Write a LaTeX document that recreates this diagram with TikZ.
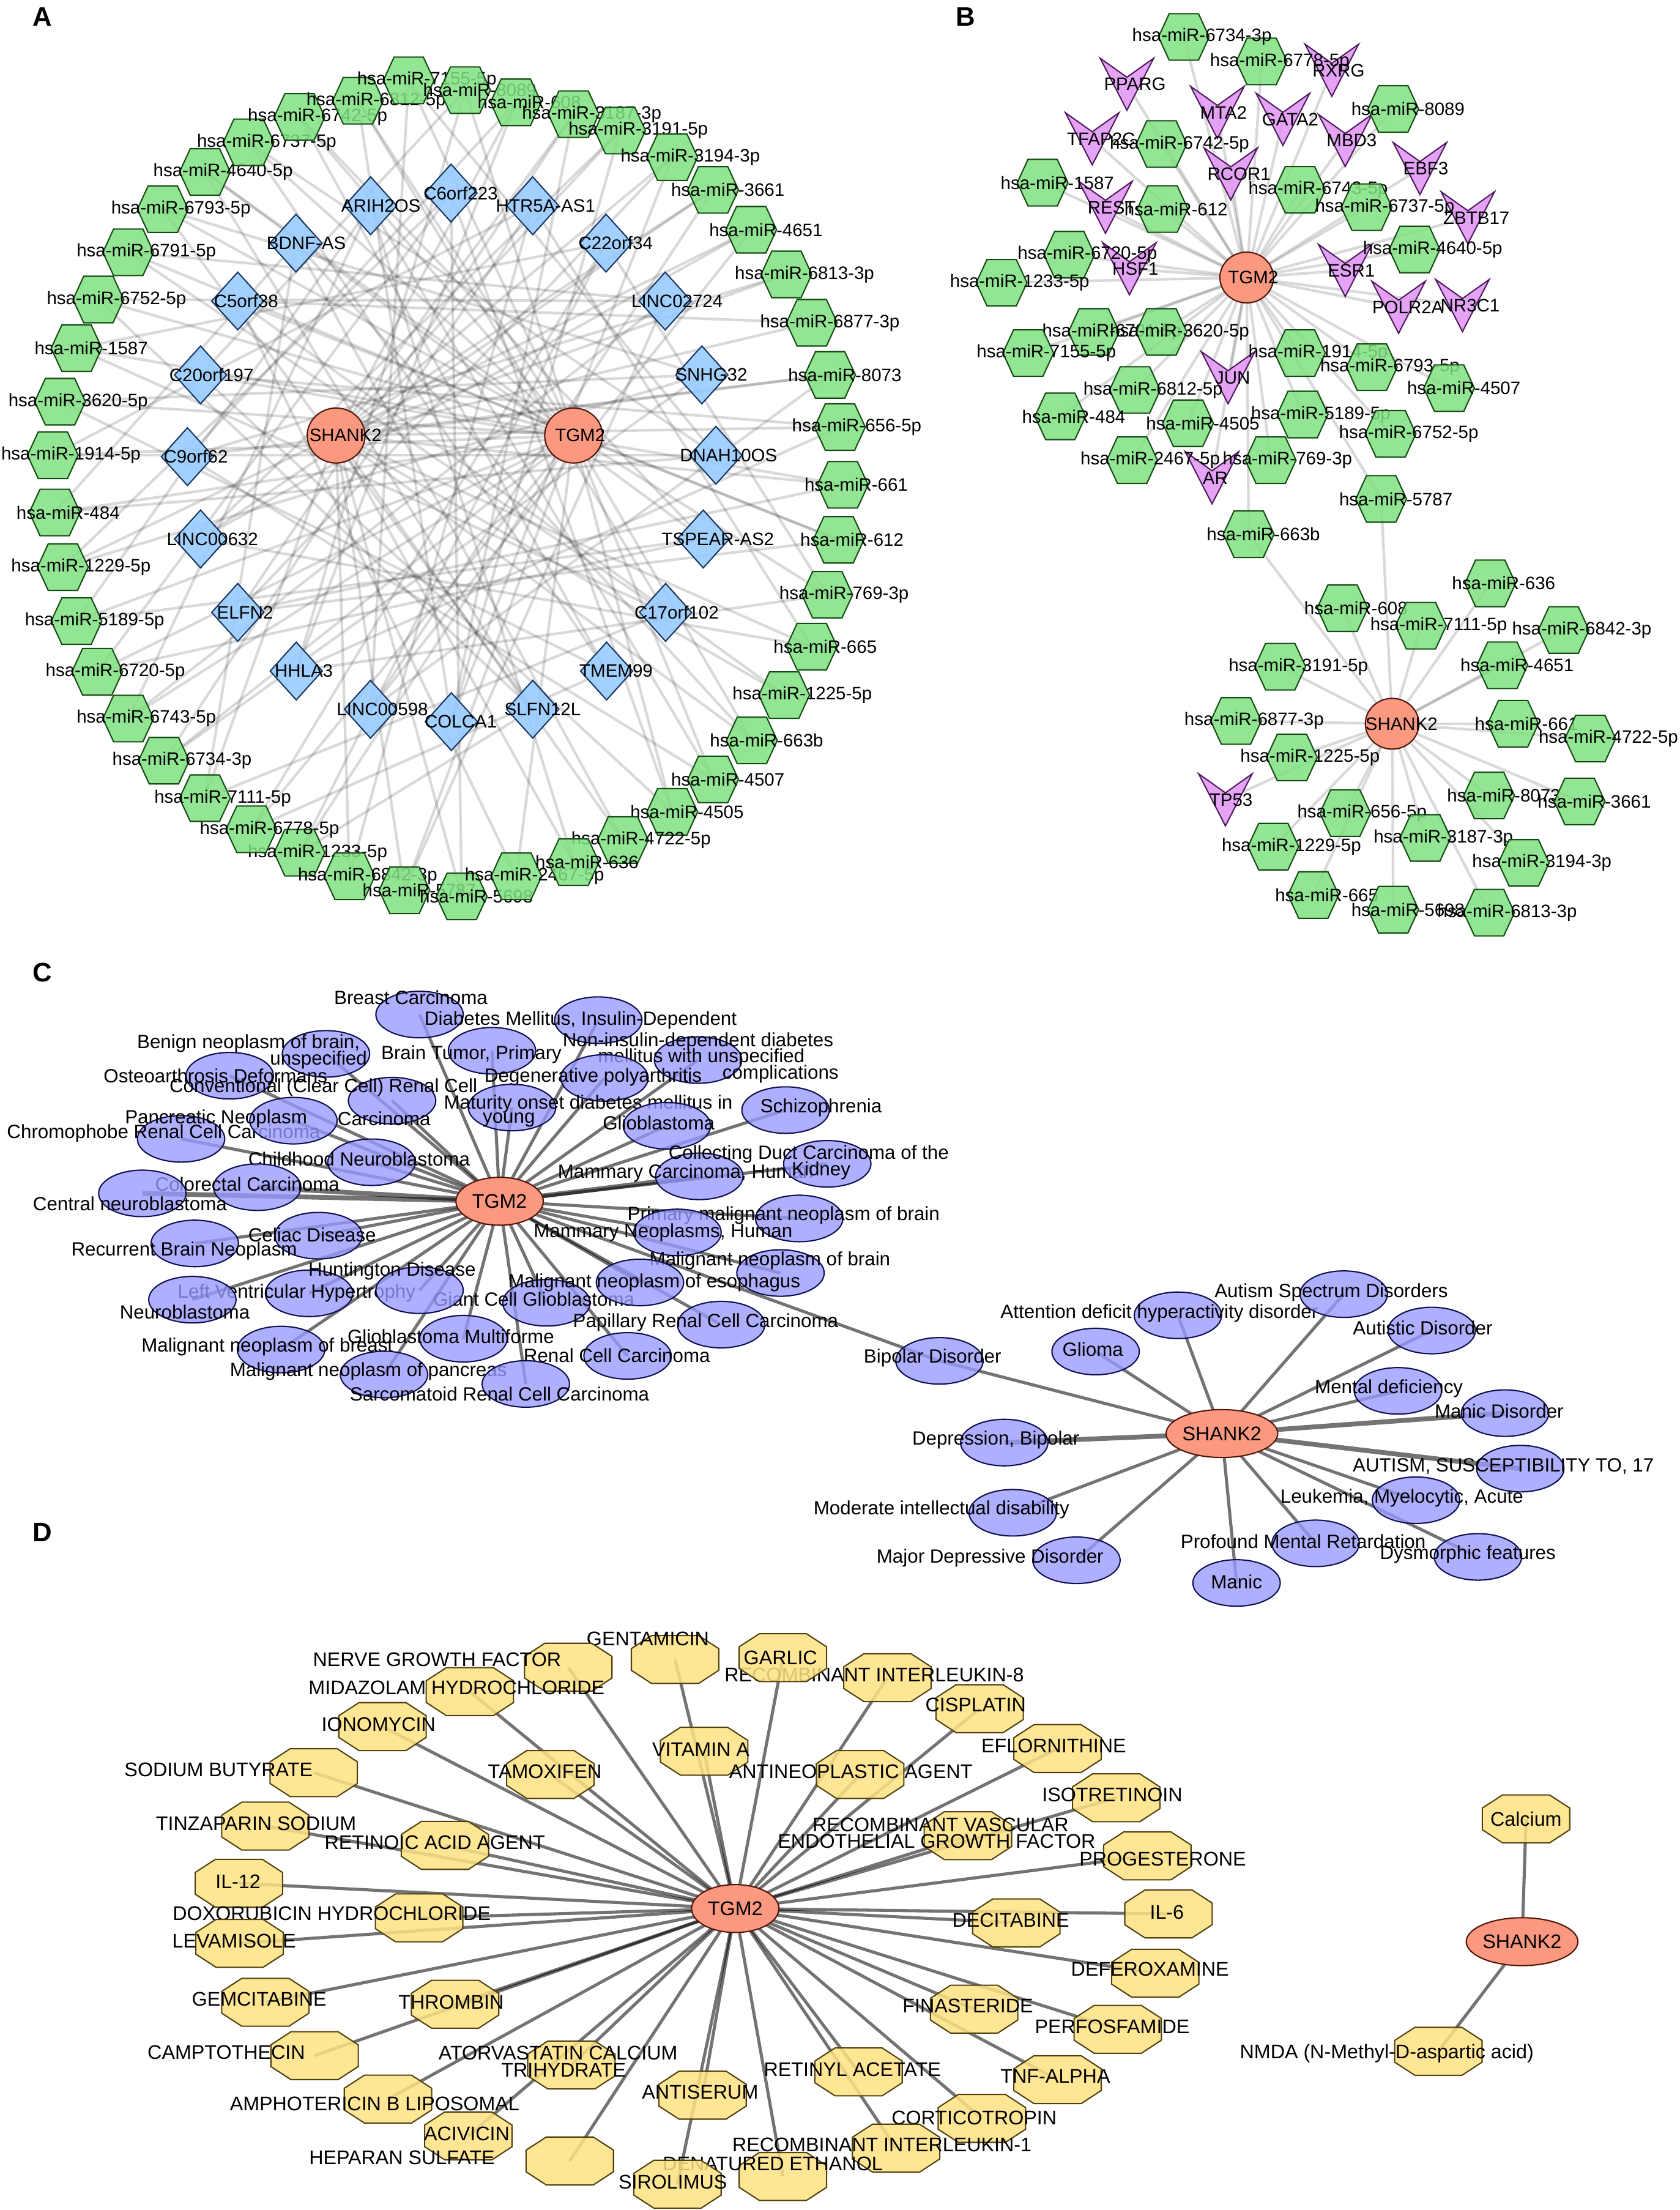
\documentclass[tikz,border=0pt]{standalone}
\usepackage{fontspec}
\setmainfont{Liberation Sans}
\usetikzlibrary{shapes.geometric}
\pgfdeclarelayer{bg}
\pgfsetlayers{bg,main}
\definecolor{hexfill}{RGB}{128,225,128}
\definecolor{hexdraw}{RGB}{20,75,20}
\definecolor{dmfill}{RGB}{153,204,255}
\definecolor{dmdraw}{RGB}{25,55,100}
\definecolor{vfill}{RGB}{226,153,245}
\definecolor{vdraw}{RGB}{80,25,95}
\definecolor{hubfill}{RGB}{250,152,128}
\definecolor{hubdraw}{RGB}{80,20,10}
\definecolor{disfill}{RGB}{153,153,255}
\definecolor{disdraw}{RGB}{15,15,80}
\definecolor{octfill}{RGB}{255,226,130}
\definecolor{octdraw}{RGB}{80,65,15}
\newdimen\lblw
\newcommand\olbl[3]{\pgfinterruptpicture\global\setbox1=\hbox{\fontsize{12.8}{14}\selectfont #3}\endpgfinterruptpicture\lblw=0.13\wd1\relax\node[lblA] (#2) at ([xshift=\the\lblw]#1) {#3};}
\newcommand\cdis[4]{\node[disc] (#1) at (#2) {};\node[lblC] (#1l) at (#3) {#4};}
\newcommand\cxl[3]{\node[lblC] (#1) at (#2) {#3};}
\newcommand\ddrug[4]{\coordinate (#1) at (#2);\pic at (#1) {octpic};\node[lblD] (#1l) at (#3) {#4};}
\newcommand\dxl[3]{\node[lblD] (#1) at (#2) {#3};}
\tikzset{
  hexs/.style={fill=hexfill,fill opacity=0.85,draw=hexdraw,line width=0.9pt},
  dms/.style={fill=dmfill,fill opacity=0.9,draw=dmdraw,line width=0.9pt},
  vs/.style={fill=vfill,fill opacity=0.9,draw=vdraw,line width=0.9pt},
  octs/.style={fill=octfill,fill opacity=0.85,draw=octdraw,line width=0.9pt},
  hexpic/.pic={\path[hexs] (-18,0)--(-10.4,-16.5)--(10.4,-16.5)--(18,0)--(10.4,16.5)--(-10.4,16.5)--cycle;},
  dmpic/.pic={\path[dms] (0,-20.5)--(18.5,0)--(0,20.5)--(-18.5,0)--cycle;},
  vpic/.pic={\path[vs] (-19,-18.5)--(0,-5)--(19,-18.5)--(0,18.5)--cycle;},
  octpic/.pic={\path[octs] (-16.7,-17)--(16.7,-17)--(31,-7.7)--(31,7.7)--(16.7,17)--(-16.7,17)--(-31,7.7)--(-31,-7.7)--cycle;},
  hubA/.style={ellipse,fill=hubfill,draw=hubdraw,line width=0.9pt,minimum width=41,minimum height=39,inner sep=0pt},
  hubB/.style={hubA,minimum width=38,minimum height=36},
  hubC/.style={hubA,minimum width=62,minimum height=34,font=\fontsize{14}{16}\selectfont},
  disc/.style={ellipse,fill=disfill,fill opacity=0.78,draw=disdraw,line width=0.9pt,minimum width=62,minimum height=33,inner sep=0pt},
  lblA/.style={font=\fontsize{12.8}{14}\selectfont,inner sep=0pt},
  lblC/.style={font=\fontsize{13.6}{15}\selectfont,inner sep=0pt},
  lblD/.style={font=\fontsize{14}{16}\selectfont,inner sep=0pt},
  plabel/.style={font=\fontsize{19}{22}\selectfont\bfseries,inner sep=0pt},
  edgeA/.style={draw=black,draw opacity=0.15,line width=1.9pt},
  edgeC/.style={draw=black,draw opacity=0.55,line width=2.2pt},
  edgeCt/.style={edgeC,line width=3.4pt}
}
\begin{document}
\begin{tikzpicture}[x=1pt,y=-1pt]
\begin{pgfonlayer}{bg}
\fill[white] (0,0) rectangle (1192,1568);
\end{pgfonlayer}
\useasboundingbox (0,0) rectangle (1192,1568);

% ---------------- Panel labels
\node[plabel] (pA) at (30,12) {A};
\node[plabel] (pB) at (685,12) {B};
\node[plabel] (pC) at (30,690) {C};
\node[plabel] (pD) at (30,1087) {D};

% ---------------- Panel A
\foreach \n/\x/\y in {a7155/290/57, a8089/330/64, a6812/254/71.5, a608/366/72.6, a6742/212.5/83, a3187/407/81, a3191/440/92.6, a6737/176.4/101, a3194/477/111.5, a4640/145.4/122, a3661/506/134.7, a6793/115.5/148.4, a4651/533/163, a6791/91/179, a6813/558/194.7, a6752/69.8/212.5, a6877/576/229, a1587/54.3/247, a8073/589/266, a3620/42.6/285, a656/596/303, a1914/37.5/323, a484/38.8/363.6, a1229/44.6/402.4, a5189/54.3/440.7, a6720/69/476.6, a6743/91/509.8, a6734/116.3/539.7, a7111/145.4/566.3, a6778/178.4/588.4, a1233/212.5/605, a6842/248/621.7, a5787/287/631.7, a5698/327.6/636, a2467/366.4/621.7, a636/407/611.7, a4722/442/596, a4505/477/576, a4507/506/553, a663b/533.5/525.3, a1225/556.4/493.2, a665/576/458.8, a769/587/422, a612/595/383, a661/598/344}
  \coordinate (\n) at (\x,\y);
\foreach \n/\x/\y in {dC6/320/137, dARIH/263/146, dHTR/378/146, dBDNF/210/172.5, dC22/430/172.5, dC5/168.7/213.6, dL2724/472/213.6, dC20/142.3/266, dSNHG/498/266, dC9/133/324, dDNAH/508/323, dL632/142.3/382.4, dTSP/499/382.4, dELFN/168.7/434.5, dC17/472.3/434.5, dHHLA/210.2/476.1, dTMEM/430.4/476.1, dL598/262.9/503.2, dSLFN/378/503.2, dCOLCA/320.3/512}
  \coordinate (\n) at (\x,\y);
\node[hubA] (aSHANK2) at (238.5,309) {};
\olbl{aSHANK2}{LaSHANK2}{SHANK2}
\node[hubA] (aTGM2) at (407,309) {};
\olbl{aTGM2}{LaTGM2}{TGM2}
\foreach \n/\t in {dC6/C6orf223, dARIH/ARIH2OS, dHTR/HTR5A-AS1, dBDNF/BDNF-AS, dC22/C22orf34, dC5/C5orf38, dL2724/LINC02724, dC20/C20orf197, dSNHG/SNHG32, dC9/C9orf62, dDNAH/DNAH10OS, dL632/LINC00632, dTSP/TSPEAR-AS2, dELFN/ELFN2, dC17/C17orf102, dHHLA/HHLA3, dTMEM/TMEM99, dL598/LINC00598, dSLFN/SLFN12L, dCOLCA/COLCA1}
  {\pic at (\n) {dmpic}; \olbl{\n}{L\n}{\t}}
\foreach \n/\t in {a1233/hsa-miR-1233-5p, a6842/hsa-miR-6842-3p, a5787/hsa-miR-5787, a5698/hsa-miR-5698, a2467/hsa-miR-2467-5p, a6778/hsa-miR-6778-5p, a7111/hsa-miR-7111-5p, a6734/hsa-miR-6734-3p, a6743/hsa-miR-6743-5p, a6720/hsa-miR-6720-5p, a5189/hsa-miR-5189-5p, a1229/hsa-miR-1229-5p, a484/hsa-miR-484, a1914/hsa-miR-1914-5p, a3620/hsa-miR-3620-5p, a1587/hsa-miR-1587, a6752/hsa-miR-6752-5p, a6791/hsa-miR-6791-5p, a6793/hsa-miR-6793-5p, a4640/hsa-miR-4640-5p, a6737/hsa-miR-6737-5p, a6742/hsa-miR-6742-5p, a6812/hsa-miR-6812-5p, a7155/hsa-miR-7155-5p, a8089/hsa-miR-8089, a608/hsa-miR-608, a3187/hsa-miR-3187-3p, a3191/hsa-miR-3191-5p, a3194/hsa-miR-3194-3p, a3661/hsa-miR-3661, a4651/hsa-miR-4651, a6813/hsa-miR-6813-3p, a6877/hsa-miR-6877-3p, a8073/hsa-miR-8073, a656/hsa-miR-656-5p, a661/hsa-miR-661, a612/hsa-miR-612, a769/hsa-miR-769-3p, a665/hsa-miR-665, a1225/hsa-miR-1225-5p, a663b/hsa-miR-663b, a4507/hsa-miR-4507, a4505/hsa-miR-4505, a4722/hsa-miR-4722-5p, a636/hsa-miR-636}
  {\pic at (\n) {hexpic}; \olbl{\n}{L\n}{\t}}
\begin{pgfonlayer}{bg}
\foreach \mm in {a608,a3187,a3191,a3194,a3661,a4651,a6813,a6877,a8073,a656,a1229,a7111,a6842,a5698,a636,a4722,a1225,a665,a661,a5787,a663b}
  \draw[edgeA] (aSHANK2.center) -- (\mm.center);
\foreach \mm in {a7155,a8089,a6812,a6742,a6737,a4640,a6793,a6791,a6752,a1587,a3620,a1914,a484,a5189,a6720,a6743,a6734,a6778,a1233,a5787,a2467,a4505,a4507,a663b,a769,a612}
  \draw[edgeA] (aTGM2.center) -- (\mm.center);
\foreach \dd/\ms in {dC6/{a5698,a4505,a6720,a1229}, dARIH/{a636,a4507,a6743,a5189}, dHTR/{a6842,a6734,a665,a1914}, dBDNF/{a4722,a663b,a7111,a484}, dC22/{a6778,a1233,a769,a1587}, dC5/{a1225,a612,a2467,a6877}, dL2724/{a6791,a6752,a5787,a6743}, dC20/{a661,a656,a4505,a8089}, dSNHG/{a3620,a6793,a1229,a6734}, dC9/{a8073,a6813,a608,a4507}, dDNAH/{a1914,a484,a6737,a7155}, dL632/{a4651,a3661,a3191,a665}, dTSP/{a4640,a5189,a6742,a6720}, dELFN/{a3194,a3187,a661,a612}, dC17/{a6812,a1587,a6791,a7111}, dHHLA/{a608,a8089,a769,a656}, dTMEM/{a6742,a6737,a3620,a6778}, dL598/{a7155,a3661,a4651,a8073}, dSLFN/{a6793,a4640,a6752,a1233}, dCOLCA/{a3191,a3187,a6812,a3194}}
  {\foreach \mm in \ms {\draw[edgeA] (\dd.center) -- (\mm.center);}}
\end{pgfonlayer}

% ---------------- Panel B
\foreach \n/\x/\y in {bPPARG/799.6/59.8, bRXRG/945/49.9, bMTA2/863.8/79.8, bGATA2/910.3/84.7, bMBD3/954.5/99.7, bTFAP2C/775/98.5, bRCOR1/873.3/123.4, bEBF3/1007.5/119.6, bREST/784.4/147.1, bZBTB17/1041.5/154.5, bHSF1/801.4/190.7, bESR1/954.5/191.9, bPOLR2A/992.4/218, bNR3C1/1037.7/216.8, bJUN/871.4/268, bAR/860/339, bTP53/869.5/567.5, b6734/840/26.2, b6778/895.2/43.6, b8089/988.6/77.3, b6742/824.1/102.2, b1587/739.8/129.6, b612/824.9/148.3, b6743/922.4/134.6, b6737/969.7/147, b4640/1003.7/177, b6720/758.7/180.7, b1233/710.7/200.6, b6791/776.1/235.5, b3620/824.1/235.5, b7155/729.6/250.5, b1914/922.4/250.5, b6793/973.4/260.5, b4507/1028.2/275.4, b6812/805.3/276.7, b484/752.3/295.4, b4505/843/300.3, b5189/924.3/294.1, b6752/986.7/307.8, b2467/803.3/326.5, b769/901.6/326.5, b5787/980/354, b663b/886/379, b636/1057.4/413.9, b608/952.6/431.5, b7111/1008.2/443.9, b6842/1109.5/447, b3191/908.4/473, b4651/1066/472, b6877/877/511.5, b661/1073.6/513.5, b4722/1128.4/524, b1225/916.7/537.4, b8073/1056.6/564.4, b3661/1120.8/568.6, b656/954.5/576.9, b1229/903.5/600.7, b3187/1011.3/594.5, b3194/1081.2/612.2, b665/931.9/635, b5698/988.6/645.4, b6813/1056.6/647.5}
  \coordinate (\n) at (\x,\y);
\node[hubB] (bTGM2) at (884.6,196.9) {};
\olbl{bTGM2}{LbTGM2}{TGM2}
\node[hubB] (bSHANK2) at (987.8,513.5) {};
\olbl{bSHANK2}{LbSHANK2}{SHANK2}
\foreach \n/\t in {bRXRG/RXRG, bPPARG/PPARG, bMTA2/MTA2, bGATA2/GATA2, bMBD3/MBD3, bTFAP2C/TFAP2C, bRCOR1/RCOR1, bEBF3/EBF3, bREST/REST, bZBTB17/ZBTB17, bHSF1/HSF1, bESR1/ESR1, bPOLR2A/POLR2A, bNR3C1/NR3C1, bJUN/JUN, bAR/AR, bTP53/TP53}
  {\pic at (\n) {vpic}; \olbl{\n}{L\n}{\t}}
\foreach \n/\t in {b6778/hsa-miR-6778-5p, b6734/hsa-miR-6734-3p, b8089/hsa-miR-8089, b6742/hsa-miR-6742-5p, b1587/hsa-miR-1587, b612/hsa-miR-612, b6743/hsa-miR-6743-5p, b6737/hsa-miR-6737-5p, b4640/hsa-miR-4640-5p, b6720/hsa-miR-6720-5p, b1233/hsa-miR-1233-5p, b6791/hsa-miR-6791-5p, b3620/hsa-miR-3620-5p, b7155/hsa-miR-7155-5p, b1914/hsa-miR-1914-5p, b6793/hsa-miR-6793-5p, b4507/hsa-miR-4507, b6812/hsa-miR-6812-5p, b484/hsa-miR-484, b4505/hsa-miR-4505, b5189/hsa-miR-5189-5p, b6752/hsa-miR-6752-5p, b2467/hsa-miR-2467-5p, b769/hsa-miR-769-3p, b5787/hsa-miR-5787, b663b/hsa-miR-663b, b636/hsa-miR-636, b608/hsa-miR-608, b7111/hsa-miR-7111-5p, b6842/hsa-miR-6842-3p, b3191/hsa-miR-3191-5p, b4651/hsa-miR-4651, b6877/hsa-miR-6877-3p, b661/hsa-miR-661, b4722/hsa-miR-4722-5p, b1225/hsa-miR-1225-5p, b8073/hsa-miR-8073, b3661/hsa-miR-3661, b656/hsa-miR-656-5p, b1229/hsa-miR-1229-5p, b3187/hsa-miR-3187-3p, b3194/hsa-miR-3194-3p, b665/hsa-miR-665, b5698/hsa-miR-5698, b6813/hsa-miR-6813-3p}
  {\pic at (\n) {hexpic}; \olbl{\n}{L\n}{\t}}
\begin{pgfonlayer}{bg}
\foreach \mm in {b6734,b6778,b8089,b6742,b1587,b612,b6743,b6737,b4640,b6720,b1233,b6791,b3620,b7155,b1914,b6793,b4507,b6812,b484,b4505,b5189,b6752,b2467,b769,b5787,b663b,bPPARG,bRXRG,bMTA2,bGATA2,bMBD3,bTFAP2C,bRCOR1,bEBF3,bREST,bZBTB17,bHSF1,bESR1,bPOLR2A,bNR3C1,bJUN,bAR}
  \draw[edgeA] (bTGM2.center) -- (\mm.center);
\foreach \mm in {b636,b608,b7111,b6842,b3191,b4651,b6877,b661,b4722,b1225,b8073,b3661,b656,b1229,b3187,b3194,b665,b5698,b6813,bTP53,b5787,b663b}
  \draw[edgeA] (bSHANK2.center) -- (\mm.center);
\end{pgfonlayer}

% ---------------- Panel C
\cdis{c1}{297.7,719.8}{291.5,707.6}{Breast Carcinoma}
\cdis{c2}{424.5,723.8}{412,723.8}{Diabetes Mellitus, Insulin-Dependent}
\cdis{c3}{231.3,747.7}{176.3,740.4}{Benign neoplasm of brain,}
\cxl{c3m}{226,752.1}{unspecified}
\cdis{c4}{349.1,745.5}{334.5,748.2}{Brain Tumor, Primary}
\cdis{c5}{495.3,752.1}{495.3,738.9}{Non-insulin-dependent diabetes}
\cxl{c5m}{497.6,750.4}{mellitus with unspecified}
\cxl{c5n}{553.8,761.9}{complications}
\cdis{c6}{163,763.2}{152.9,763.2}{Osteoarthrosis Deformans}
\cdis{c7}{278.2,780.9}{229.5,771.4}{Conventional (Clear Cell) Renal Cell}
\cxl{c7m}{272.5,793.6}{Carcinoma}
\cdis{c8}{428.9,764.8}{420.9,764.1}{Degenerative polyarthritis}
\cdis{c9}{363.3,785.8}{417.4,783.2}{Maturity onset diabetes mellitus in}
\cxl{c9m}{361.1,794.7}{young}
\cdis{c10}{557.4,787.6}{582.6,785.8}{Schizophrenia}
\cdis{c13}{128.5,808}{116.1,804.2}{Chromophobe Renal Cell Carcinoma}
\cdis{c11}{208.2,795.1}{153.3,793.6}{Pancreatic Neoplasm}
\cdis{c12}{473.2,798.7}{467.4,796.5}{Glioblastoma}
\cdis{c14}{263.6,824.6}{254.8,822.4}{Childhood Neuroblastoma}
\cdis{c16}{496.2,834.6}{486.5,832.3}{Mammary Carcinoma, Human}
\cdis{c15}{587,825.7}{573.8,819}{Collecting Duct Carcinoma of the}
\cxl{c15m}{582.6,830.6}{Kidney}
\cdis{c18}{182.5,842.3}{175.5,840.1}{Colorectal Carcinoma}
\cdis{c17}{101,846.7}{92.2,854.1}{Central neuroblastoma}
\cdis{c19}{567.1,864.5}{556,862.2}{Primary malignant neoplasm of brain}
\cdis{c20}{480.7,874.4}{470.5,874.4}{Mammary Neoplasms, Human}
\cdis{c21}{226,876.7}{221.5,876.2}{Celiac Disease}
\cdis{c22}{138.2,882.2}{130.7,887.3}{Recurrent Brain Neoplasm}
\cdis{c23}{553.8,903.2}{546.3,894.4}{Malignant neoplasm of brain}
\cdis{c26}{219.3,917.6}{210.5,917.6}{Left Ventricular Hypertrophy}
\cdis{c25}{136.5,922.1}{131.1,930.9}{Neuroblastoma}
\cdis{c28}{387.7,924.3}{378.8,921.6}{Giant Cell Glioblastoma}
\cdis{c27}{297.7,915.4}{278.2,901.7}{Huntington Disease}
\cdis{c24}{454.1,909.9}{464.3,909.9}{Malignant neoplasm of esophagus}
\cdis{c29}{511.7,939.8}{500.7,938.2}{Papillary Renal Cell Carcinoma}
\cdis{c30}{328.8,949.8}{319.9,948}{Glioblastoma Multiforme}
\cdis{c31}{199.4,957.5}{189.6,955.7}{Malignant neoplasm of breast}
\cdis{c32}{445.3,962}{437.7,961.5}{Renal Cell Carcinoma}
\cdis{c33}{272.5,975.2}{261.4,973}{Malignant neoplasm of pancreas}
\cdis{c34}{373.1,981.9}{354.5,989.2}{Sarcomatoid Renal Cell Carcinoma}
\cdis{c35}{666.6,965.5}{661.7,963.6}{Bipolar Disorder}
\cdis{s1}{777.4,958.9}{775.4,957.3}{Glioma}
\cdis{s2}{835.8,933.2}{822.6,931.6}{Attention deficit hyperactivity disorder}
\cdis{s3}{953.5,918.2}{944.6,917}{Autism Spectrum Disorders}
\cdis{s4}{1015.9,944}{1009.5,942.3}{Autistic Disorder}
\cdis{s5}{991.9,986.8}{985.5,985.2}{Mental deficiency}
\cdis{s6}{1067.9,1002.6}{1063.7,1001.3}{Manic Disorder}
\cdis{s7}{1078.7,1042}{1066.7,1040.4}{AUTISM, SUSCEPTIBILITY TO, 17}
\cdis{s8}{1004.7,1064.4}{994.7,1062.8}{Leukemia, Myelocytic, Acute}
\cdis{s10}{933.5,1095}{924.7,1093.5}{Profound Mental Retardation}
\cdis{s9}{1048.7,1104.6}{1041.5,1103}{Dysmorphic features}
\cdis{s11}{877.4,1123.1}{877.4,1122.3}{Manic}
\cdis{s12}{763.8,1107}{702.5,1105.4}{Major Depressive Disorder}
\cdis{s13}{718.6,1073.3}{668,1071.3}{Moderate intellectual disability}
\cdis{s14}{712.6,1023.5}{706.6,1021.8}{Depression, Bipolar}
\node[hubC] (cTGM2) at (354.5,852.3) {TGM2};
\node[hubC] (cSHANK2) at (867,1017.1) {SHANK2};
\begin{pgfonlayer}{bg}
\foreach \mm in {c1,c2,c3,c4,c5,c6,c7,c8,c9,c10,c11,c12,c13,c14,c15,c19,c20,c21,c22,c23,c24,c25,c26,c27,c28,c29,c30,c31,c32,c33,c34,c35}
  \draw[edgeC] (cTGM2.center) -- (\mm.center);
\foreach \mm in {c16,c17,c18}
  \draw[edgeCt] (cTGM2.center) -- (\mm.center);
\foreach \mm in {s1,s2,s3,s4,s5,s8,s9,s10,s11,s12,s13,c35}
  \draw[edgeC] (cSHANK2.center) -- (\mm.center);
\foreach \mm in {s6,s7,s14}
  \draw[edgeCt] (cSHANK2.center) -- (\mm.center);
\end{pgfonlayer}

% ---------------- Panel D
\ddrug{d1}{479,1177.4}{459.7,1162.9}{GENTAMICIN}
\ddrug{d3}{403.2,1182.9}{310.1,1177.4}{NERVE GROWTH FACTOR}
\ddrug{d4}{629.7,1190.3}{620.3,1188.4}{RECOMBINANT INTERLEUKIN-8}
\ddrug{d2}{555.5,1176.1}{553.8,1176.1}{GARLIC}
\ddrug{d5}{333.4,1200.2}{324,1197.5}{MIDAZOLAM HYDROCHLORIDE}
\ddrug{d6}{695.1,1212.3}{692.3,1209.6}{CISPLATIN}
\ddrug{d7}{271.4,1225}{268.6,1223.3}{IONOMYCIN}
\ddrug{d8}{499.6,1242.5}{497.3,1241.4}{VITAMIN A}
\ddrug{d9}{750.4,1240.6}{747.7,1238.7}{EFLORNITHINE}
\ddrug{d10}{222.6,1257.7}{155.1,1255.7}{SODIUM BUTYRATE}
\ddrug{d11}{390.5,1259}{386.6,1257.1}{TAMOXIFEN}
\ddrug{d12}{610.3,1259}{603.7,1257.1}{ANTINEOPLASTIC AGENT}
\ddrug{d13}{792,1275.5}{789.2,1273.6}{ISOTRETINOIN}
\ddrug{d14}{188.3,1295.6}{181.7,1293.6}{TINZAPARIN SODIUM}
\ddrug{d15}{315.7,1309.3}{308.5,1307.4}{RETINOIC ACID AGENT}
\ddrug{d16}{686.8,1302.4}{667.4,1294.7}{RECOMBINANT VASCULAR}
\dxl{d16m}{664.6,1306.3}{ENDOTHELIAL GROWTH FACTOR}
\ddrug{d17}{814.1,1316.7}{825,1318.9}{PROGESTERONE}
\ddrug{d18}{169.5,1336.2}{168.9,1334.9}{IL-12}
\ddrug{d19}{297.4,1360.7}{235.4,1357.4}{DOXORUBICIN HYDROCHLORIDE}
\ddrug{d20}{170,1378.8}{166.1,1377.2}{LEVAMISOLE}
\ddrug{d21}{721.1,1364.3}{717.2,1362.3}{DECITABINE}
\ddrug{d22}{829.1,1357.9}{828,1356.8}{IL-6}
\ddrug{d23}{819.7,1400}{816,1397.2}{DEFEROXAMINE}
\ddrug{d24}{188.3,1420.6}{183.9,1418.4}{GEMCITABINE}
\ddrug{d25}{322.9,1422}{320.1,1420.6}{THROMBIN}
\ddrug{d26}{691.2,1425.5}{686.8,1423.3}{FINASTERIDE}
\ddrug{d27}{793.1,1439.8}{789.2,1437.9}{PERFOSFAMIDE}
\ddrug{d28}{223.2,1458.5}{160.6,1456.3}{CAMPTOTHECIN}
\ddrug{d29}{405.4,1465.1}{396,1456.8}{ATORVASTATIN CALCIUM}
\dxl{d29m}{399.9,1468.6}{TRIHYDRATE}
\ddrug{d30}{609.2,1470}{604.8,1468.1}{RETINYL ACETATE}
\ddrug{d31}{750.4,1475.5}{748.8,1473.3}{TNF-ALPHA}
\ddrug{d32}{498.5,1486.5}{496.8,1484.3}{ANTISERUM}
\ddrug{d33}{275.3,1489.3}{265.8,1492.6}{AMPHOTERICIN B LIPOSOMAL}
\ddrug{d34}{696.7,1503}{691.2,1502.4}{CORTICOTROPIN}
\ddrug{d35}{332.3,1515.4}{331.2,1514}{ACIVICIN}
\ddrug{d36}{635.8,1524.1}{625.8,1521.7}{RECOMBINANT INTERLEUKIN-1}
\ddrug{d37}{404.3,1533.2}{285.2,1531}{HEPARAN SULFATE}
\ddrug{d38}{555.5,1544.2}{548.3,1535.1}{DENATURED ETHANOL}
\ddrug{d39}{480.7,1549.7}{477.4,1548.3}{SIROLIMUS}
\ddrug{d40}{1082.8,1290.5}{1082.8,1290.5}{Calcium}
\ddrug{d41}{1020.6,1455.4}{984,1457}{NMDA (N-Methyl-D-aspartic acid)}
\node[hubC] (dTGM2) at (521.7,1354.1) {TGM2};
\node[hubC] (dSHANK2) at (1080,1377.6) {SHANK2};
\begin{pgfonlayer}{bg}
\foreach \mm in {d1,d2,d3,d4,d5,d6,d7,d8,d9,d10,d11,d12,d13,d14,d15,d16,d17,d18,d19,d20,d21,d22,d23,d24,d25,d26,d27,d28,d29,d30,d31,d32,d33,d34,d35,d36,d37,d38,d39}
  \draw[edgeC] (dTGM2.center) -- (\mm.center);
\foreach \mm in {d40,d41}
  \draw[edgeC] (dSHANK2.center) -- (\mm.center);
\end{pgfonlayer}
\end{tikzpicture}
\end{document}
